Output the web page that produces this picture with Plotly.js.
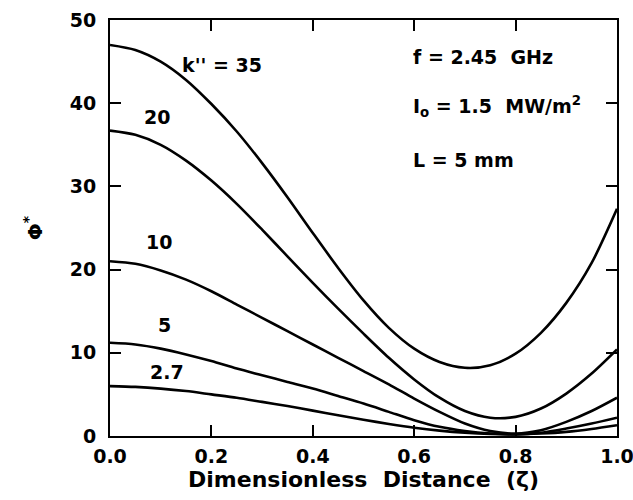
<!DOCTYPE html>
<html>
<head>
<meta charset="utf-8">
<script src="https://cdn.plot.ly/plotly-3.0.1.min.js"></script>
<style>html,body{margin:0;padding:0;background:#fff;}#plot{width:633px;height:500px;}</style>
</head>
<body>
<div id="plot"></div>
<script>
const zeta = [0, 0.05, 0.1, 0.15, 0.2, 0.25, 0.3, 0.35, 0.4, 0.45, 0.5, 0.55, 0.6, 0.65, 0.7, 0.75, 0.8, 0.85, 0.9, 0.95, 1.0];
const phi_k35 = [47.0, 46.4, 45.0, 42.8, 39.9, 36.6, 32.8, 28.7, 24.4, 20.2, 16.3, 13.0, 10.5, 8.9, 8.2, 8.5, 9.9, 12.4, 16.0, 20.8, 27.3];
const phi_k20 = [36.7, 36.2, 35.0, 33.1, 30.7, 27.9, 24.8, 21.6, 18.4, 15.3, 12.3, 9.4, 6.8, 4.6, 3.0, 2.2, 2.3, 3.3, 5.1, 7.5, 10.4];
const phi_k10 = [21.0, 20.7, 19.9, 18.8, 17.4, 15.8, 14.2, 12.6, 11.0, 9.4, 7.8, 6.2, 4.5, 2.9, 1.5, 0.6, 0.3, 0.7, 1.7, 3.0, 4.6];
const phi_k5 = [11.2, 11.0, 10.5, 9.8, 9.0, 8.1, 7.3, 6.5, 5.7, 4.8, 3.9, 2.9, 1.9, 1.1, 0.6, 0.3, 0.2, 0.4, 0.9, 1.5, 2.2];
const phi_k27 = [6.0, 5.9, 5.7, 5.4, 5.0, 4.6, 4.1, 3.6, 3.05, 2.5, 1.95, 1.45, 1.0, 0.65, 0.4, 0.25, 0.2, 0.3, 0.5, 0.85, 1.3];

const seriesNames = ["k'' = 35", "20", "10", "5", "2.7"];
const seriesValues = [phi_k35, phi_k20, phi_k10, phi_k5, phi_k27];
const labelX = [0.22, 0.093, 0.097, 0.107, 0.113];
const labelY = [44.6, 38.3, 23.3, 13.4, 7.7];

const xTickVals = [0, 0.2, 0.4, 0.6, 0.8, 1.0];
const xTickText = ["0.0", "0.2", "0.4", "0.6", "0.8", "1.0"];
const yTickVals = [0, 10, 20, 30, 40, 50];
const yTickText = ["0", "10", "20", "30", "40", "50"];

const FONT = "DejaVu Sans, Liberation Sans, Arial, sans-serif";
const NB = "\u00a0";

const traces = seriesValues.map((v, i) => ({
  x: zeta, y: v, type: 'scatter', mode: 'lines', name: seriesNames[i],
  line: {color: '#000', width: 2.6, shape: 'spline', smoothing: 0.8},
  hoverinfo: 'skip'
}));

const annotations = seriesNames.map((t, i) => ({
  x: labelX[i], y: labelY[i], xref: 'x', yref: 'y', text: t.replace(/ /g, NB),
  showarrow: false, xanchor: 'center', yanchor: 'middle',
  font: {family: FONT, size: 19, color: '#000', weight: 'bold'}
}));

const infoLines = ["f" + NB + "=" + NB + "2.45" + NB + NB + "GHz",
  "I<sub>o</sub>" + NB + "=" + NB + "1.5" + NB + NB + "MW/m<sup>2</sup>",
  "L" + NB + "=" + NB + "5" + NB + "mm"];
const infoY = [45.5, 39.6, 33.2];
infoLines.forEach((t, i) => annotations.push({
  x: 0.594, y: infoY[i], xref: 'x', yref: 'y', text: t, showarrow: false,
  xanchor: 'left', yanchor: 'middle',
  font: {family: FONT, size: 19, color: '#000', weight: 'bold'}
}));

const axisCommon = {
  showgrid: false, zeroline: false, showline: true, linecolor: '#000', linewidth: 2,
  mirror: 'ticks', ticks: 'inside', ticklen: 11, tickwidth: 2, tickcolor: '#000',
  ticklabeloverflow: 'allow',
  tickfont: {family: FONT, size: 19, color: '#000', weight: 'bold'}
};

const layout = {
  width: 633, height: 500,
  margin: {l: 110, r: 16, t: 20, b: 64},
  paper_bgcolor: '#fff', plot_bgcolor: '#fff',
  showlegend: false,
  xaxis: Object.assign({}, axisCommon, {
    range: [0, 1], tickvals: xTickVals, ticktext: xTickText, ticklabelstandoff: 2,
    title: {text: "Dimensionless" + NB + NB + "Distance" + NB + NB + "(ζ)", standoff: 6,
      font: {family: FONT, size: 22, color: '#000', weight: 'bold'}}
  }),
  yaxis: Object.assign({}, axisCommon, {
    range: [0, 50], tickvals: yTickVals, ticktext: yTickText, ticklabelstandoff: 8,
    title: {text: "Φ<sup>*</sup>", standoff: 22,
      font: {family: FONT, size: 20, color: '#000', weight: 'bold'}}
  }),
  annotations: annotations
};

Plotly.newPlot('plot', traces, layout, {staticPlot: true, displayModeBar: false});
</script>
</body>
</html>
